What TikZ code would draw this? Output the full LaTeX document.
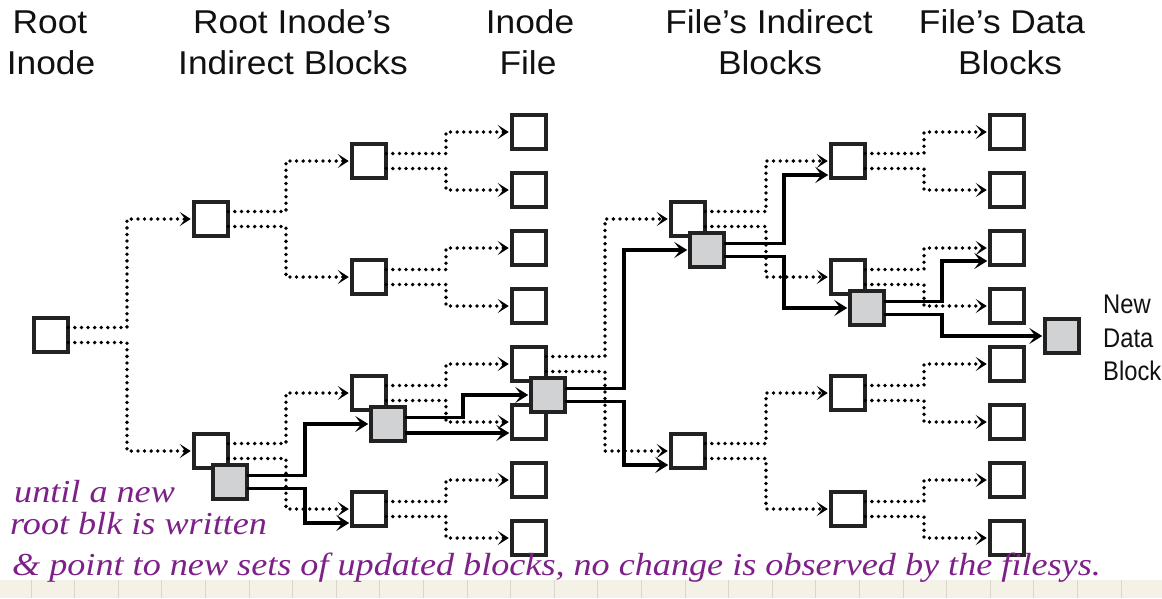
\documentclass[tikz,border=0pt]{standalone}
\usepackage{fontspec}
\setmainfont{Liberation Sans}
\newfontfamily\headsans{Liberation Sans}[FakeStretch=1.07]
\newfontfamily\narrowsans{Liberation Sans}[FakeStretch=0.88]
\newfontfamily\hand{Liberation Serif}[FakeStretch=1.13]
\usetikzlibrary{arrows.meta,calc}

\definecolor{boxc}{HTML}{222222}
\definecolor{newfill}{HTML}{D1D2D4}
\definecolor{txt}{HTML}{111111}
\definecolor{ink}{HTML}{7D2088}
\definecolor{paper}{HTML}{F4F2E6}
\definecolor{rule}{HTML}{D9D7CC}

% dotted old pointers: parent, x of the vertical run, upper child, lower child
\newcommand\oldpair[4]{%
  \draw[oldlink] ([yshift=7.5pt]#1.east) -| (#2,0 |- #3.west) -- (#3.west);
  \draw[oldlink] ([yshift=-7.5pt]#1.east) -| (#2,0 |- #4.west) -- (#4.west);}

\begin{document}
\begin{tikzpicture}[x=1pt,y=-1pt,
  blk/.style={draw=boxc, line width=3.6pt, fill=white, minimum size=34.5pt,
              inner sep=0pt, outer sep=0pt},
  newblk/.style={blk, fill=newfill},
  oldlink/.style={draw=black, line width=3.8pt, line cap=round,
              dash pattern=on 0pt off 6.6pt,
              -{Stealth[length=11pt,width=14pt,inset=5.5pt]}, shorten >=3pt},
  newlink/.style={draw=black, line width=3.2pt,
              -{Stealth[length=13pt,width=16pt,inset=6pt]}, shorten >=2.5pt},
  hdr/.style={font=\headsans\fontsize{33}{40}\selectfont, text=txt, anchor=base, inner sep=0pt},
  lbl/.style={font=\narrowsans\fontsize{27}{30}\selectfont, text=txt, anchor=base west, inner sep=0pt},
  note/.style={font=\hand\itshape\fontsize{32}{36}\selectfont, text=ink, anchor=base west, inner sep=0pt}
]
\useasboundingbox (0,0) rectangle (1162,598);

% notebook strip along the bottom edge
\fill[paper] (0,580) rectangle (1162,598);
\foreach \k in {0,...,25}
  \draw[rule, line width=1pt] ({31+43.6*\k},580) -- ({31+43.6*\k},598);

% column headings
\node[hdr] (h1a) at (50,33) {Root};
\node[hdr] (h1b) at (51,74) {Inode};
\node[hdr] (h2a) at (292,33) {Root Inode’s};
\node[hdr] (h2b) at (293,74) {Indirect Blocks};
\node[hdr] (h3a) at (530,33) {Inode};
\node[hdr] (h3b) at (528,74) {File};
\node[hdr] (h4a) at (769,33) {File’s Indirect};
\node[hdr] (h4b) at (770,74) {Blocks};
\node[hdr] (h5a) at (1002,33) {File’s Data};
\node[hdr] (h5b) at (1010,74) {Blocks};

% root inode and its indirect blocks
\node[blk] (R)  at (51,335) {};
\node[blk] (A1) at (211,219) {};
\node[blk] (A2) at (211,451) {};
\node[blk] (B1) at (369,161) {};
\node[blk] (B2) at (369,277) {};
\node[blk] (B3) at (369,393) {};
\node[blk] (B4) at (369,509) {};

% inode file and data blocks
\foreach \i/\yy in {1/132,2/190,3/248,4/306,5/364,6/422,7/480,8/538} {
  \node[blk] (C\i) at (529,\yy) {};
  \node[blk] (F\i) at (1007,\yy) {};
}

% file's indirect blocks
\node[blk] (D1) at (688,219) {};
\node[blk] (D2) at (688,451) {};
\node[blk] (E1) at (848,161) {};
\node[blk] (E2) at (848,277) {};
\node[blk] (E3) at (848,393) {};
\node[blk] (E4) at (848,509) {};

% old (unchanged) pointers
\oldpair{R}{127}{A1}{A2}
\oldpair{A1}{286}{B1}{B2}
\oldpair{A2}{286}{B3}{B4}
\oldpair{B1}{446}{C1}{C2}
\oldpair{B2}{446}{C3}{C4}
\oldpair{B3}{446}{C5}{C6}
\oldpair{B4}{446}{C7}{C8}
\oldpair{C5}{605}{D1}{D2}
\oldpair{D1}{766}{E1}{E2}
\oldpair{D2}{766}{E3}{E4}
\oldpair{E1}{924}{F1}{F2}
\oldpair{E2}{924}{F3}{F4}
\oldpair{E3}{924}{F5}{F6}
\oldpair{E4}{924}{F7}{F8}

% copies written by the update
\node[newblk] (Ag) at (230,482) {};
\node[newblk] (Bg) at (388,424) {};
\node[newblk] (Cg) at (548,395) {};
\node[newblk] (Dg) at (707,250) {};
\node[newblk] (Eg) at (867,308) {};
\node[newblk] (N)  at (1062,336) {};

% entry points of the new pointers into unchanged blocks
\coordinate (tB4) at ([yshift=-14pt]B4.west);
\coordinate (tD2) at ([yshift=-14pt]D2.west);
\coordinate (tE1) at ([yshift=-14pt]E1.west);
\coordinate (tF3) at ([yshift=-13pt]F3.west);
\coordinate (bgl) at ([yshift=-9pt]Bg.east);

% new pointers
\draw[newlink] ([yshift=6.5pt]Ag.east) -| (305,0 |- Bg.west) -- (Bg.west);
\draw[newlink] ([yshift=-6.5pt]Ag.east) -| (305,0 |- tB4) -- (tB4);
\draw[newlink] ([yshift=6.5pt]Bg.east) -| (463,0 |- Cg.west) -- (Cg.west);
\draw[newlink] (bgl) -- (bgl -| C6.west);
\draw[newlink] ([yshift=6.5pt]Cg.east) -| (624,0 |- Dg.west) -- (Dg.west);
\draw[newlink] ([yshift=-6.5pt]Cg.east) -| (624,0 |- tD2) -- (tD2);
\draw[newlink] ([yshift=6.5pt]Dg.east) -| (784,0 |- tE1) -- (tE1);
\draw[newlink] ([yshift=-6.5pt]Dg.east) -| (784,0 |- Eg.west) -- (Eg.west);
\draw[newlink] ([yshift=6.5pt]Eg.east) -| (942,0 |- tF3) -- (tF3);
\draw[newlink] ([yshift=-6.5pt]Eg.east) -| (942,0 |- N.west) -- (N.west);

% label of the new data block
\node[lbl] (n1) at (1103,313) {New};
\node[lbl] (n2) at (1103,347) {Data};
\node[lbl] (n3) at (1103,380) {Block};

% handwritten remark
\node[note] (w1) at (14,502) {until a new};
\node[note] (w2) at (10,534) {root blk is written};
\node[note] (w3) at (12,575) {\& point to new sets of updated blocks, no change is observed by the filesys.};
\end{tikzpicture}
\end{document}
